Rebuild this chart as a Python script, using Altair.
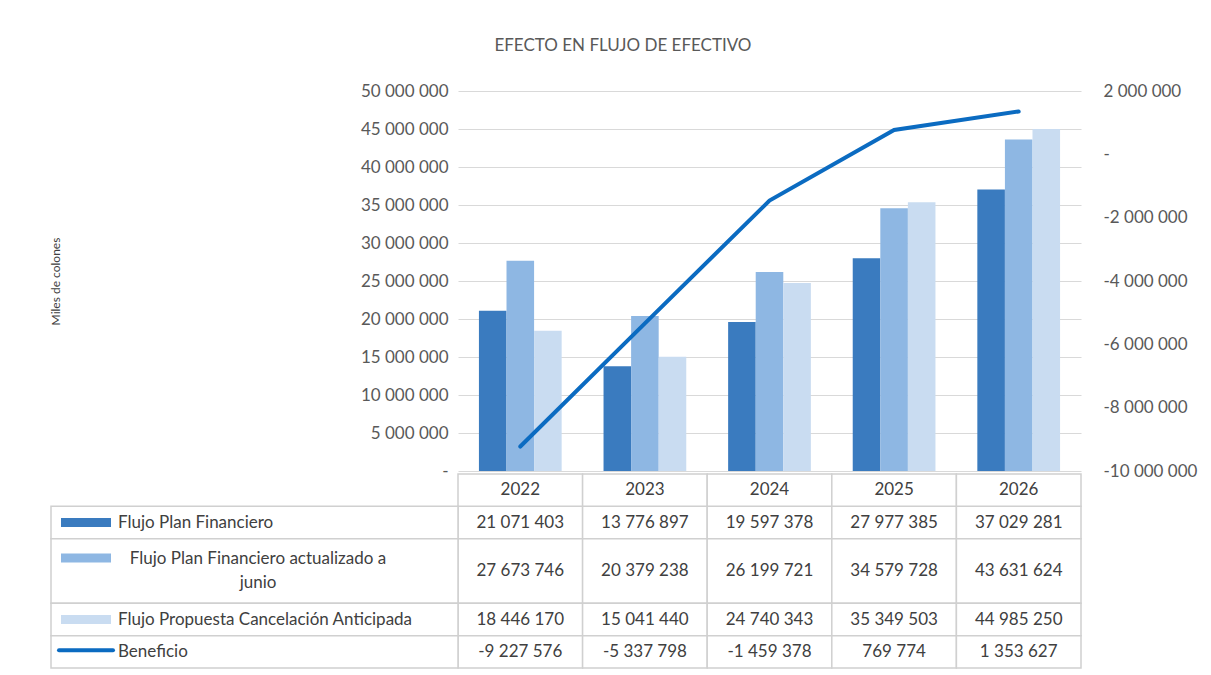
import altair as alt
import pandas as pd

years = ["2022", "2023", "2024", "2025", "2026"]
series = ["Flujo Plan Financiero",
          "Flujo Plan Financiero actualizado a junio",
          "Flujo Propuesta Cancelación Anticipada"]
flujo_plan = [21071403, 13776897, 19597378, 27977385, 37029281]
flujo_actualizado = [27673746, 20379238, 26199721, 34579728, 43631624]
flujo_propuesta = [18446170, 15041440, 24740343, 35349503, 44985250]
beneficio = [-9227576, -5337798, -1459378, 769774, 1353627]
left_ticks = [0, 5000000, 10000000, 15000000, 20000000, 25000000,
              30000000, 35000000, 40000000, 45000000, 50000000]
right_ticks = [-10000000, -8000000, -6000000, -4000000, -2000000, 0, 2000000]
colors = ["#3A7BBF", "#8EB7E3", "#C9DCF1"]
line_color = "#0B6BC1"

FONT = "Lato"
TXT = "#595959"
GRID = "#D9D9D9"

W, H = 623, 380

bars_df = pd.DataFrame(
    [{"year": y, "serie": s, "value": v}
     for s, vals in zip(series, [flujo_plan, flujo_actualizado, flujo_propuesta])
     for y, v in zip(years, vals)]
)
line_df = pd.DataFrame({"year": years, "beneficio": beneficio})

xband = alt.Scale(domain=years, paddingInner=0.336, paddingOuter=0.168)

bars = alt.Chart(bars_df).mark_bar().encode(
    x=alt.X("year:N", scale=xband, axis=None),
    xOffset=alt.XOffset("serie:N", sort=series, scale=alt.Scale(domain=series)),
    y=alt.Y("value:Q",
            scale=alt.Scale(domain=[0, 50000000], nice=False),
            axis=alt.Axis(values=left_ticks, format=",d",
                          labelExpr="datum.value == 0 ? '-' : datum.label",
                          grid=True, gridColor=GRID, domain=False, ticks=False,
                          labelPadding=10, labelFontSize=17, labelColor=TXT,
                          labelFont=FONT,
                          title="Miles de colones", titleFont=FONT,
                          titleFontSize=12, titleFontWeight="normal",
                          titleColor="#404040", titleX=-396, titleY=H / 2)),
    color=alt.Color("serie:N", scale=alt.Scale(domain=series, range=colors),
                    legend=None),
)

line = alt.Chart(line_df).mark_line(color=line_color, strokeWidth=4,
                                    strokeCap="round").encode(
    x=alt.X("year:N", scale=xband, axis=None),
    y=alt.Y("beneficio:Q",
            scale=alt.Scale(domain=[-10000000, 2000000], nice=False, zero=False),
            axis=alt.Axis(orient="right", values=right_ticks, format=",d",
                          labelExpr="datum.value == 0 ? '-' : datum.label",
                          grid=False, domain=False, ticks=False,
                          labelPadding=22, labelFontSize=17, labelColor=TXT,
                          labelFont=FONT, title=None)),
)

main = alt.layer(bars, line).resolve_scale(y="independent").properties(
    width=W, height=H)

# ---------------- data table ----------------
row_keys = ["r1", "r2", "r3", "r4"]
row_y0 = [1, 2, 4, 5]
row_y1 = [2, 4, 5, 6]
row_vals = [flujo_plan, flujo_actualizado, flujo_propuesta, beneficio]

cells = []
for k, y0, y1, vals in zip(row_keys, row_y0, row_y1, row_vals):
    for yr, v in zip(years, vals):
        cells.append({"row": k, "year": yr, "y0": y0, "y1": y1,
                      "ym": (y0 + y1) / 2, "value": v})
cells_df = pd.DataFrame(cells)
header_df = pd.DataFrame({"year": years, "y0": [0] * 5, "y1": [1] * 5,
                          "ym": [0.5] * 5})
labels_df = pd.DataFrame({
    "row": row_keys, "y0": row_y0, "y1": row_y1,
    "ym": [(a + b) / 2 for a, b in zip(row_y0, row_y1)],
    "sy": [1.5, 2.6, 4.5, 5.45],
    "label": ["Flujo Plan Financiero",
              "Flujo Plan Financiero actualizado a\njunio",
              "Flujo Propuesta Cancelación Anticipada",
              "Beneficio"],
    "kind": ["bar", "bar", "bar", "line"],
    "color": colors + [line_color],
})

tx = alt.Scale(domain=years, paddingInner=0, paddingOuter=0)
ty = alt.Scale(domain=[0, 6], reverse=True, nice=False, zero=False)
BORDER = "#D0D0D0"

cell_rect = alt.Chart(cells_df).mark_rect(fill="white", stroke=BORDER,
                                          strokeWidth=1.5).encode(
    x=alt.X("year:N", scale=tx, axis=None),
    y=alt.Y("y0:Q", scale=ty, axis=None),
    y2="y1:Q",
)
head_rect = alt.Chart(header_df).mark_rect(fill="white", stroke=BORDER,
                                           strokeWidth=1.5).encode(
    x=alt.X("year:N", scale=tx, axis=None),
    y=alt.Y("y0:Q", scale=ty, axis=None),
    y2="y1:Q",
)
label_rect = alt.Chart(labels_df).mark_rect(fill="white", stroke=BORDER,
                                            strokeWidth=1.5).encode(
    x=alt.value(-407), x2=alt.value(0),
    y=alt.Y("y0:Q", scale=ty, axis=None),
    y2="y1:Q",
)
num_text = alt.Chart(cells_df).mark_text(font=FONT, fontSize=17,
                                         color="#404040").encode(
    x=alt.X("year:N", scale=tx, axis=None),
    y=alt.Y("ym:Q", scale=ty, axis=None),
    text=alt.Text("value:Q", format=",d"),
)
head_text = alt.Chart(header_df).mark_text(font=FONT, fontSize=17,
                                           color="#404040").encode(
    x=alt.X("year:N", scale=tx, axis=None),
    y=alt.Y("ym:Q", scale=ty, axis=None),
    text="year:N",
)
lab_text_left = alt.Chart(labels_df).transform_filter(
    "datum.row != 'r2'").mark_text(font=FONT, fontSize=17, color="#404040",
                                  align="left").encode(
    x=alt.value(-340),
    y=alt.Y("ym:Q", scale=ty, axis=None),
    text="label:N",
)
lab_text_center = alt.Chart(labels_df).transform_filter(
    "datum.row == 'r2'").mark_text(font=FONT, fontSize=17, color="#404040",
                                  align="center", lineBreak="\n",
                                  lineHeight=24, dy=-12).encode(
    x=alt.value(-200),
    y=alt.Y("ym:Q", scale=ty, axis=None),
    text="label:N",
)
swatch_bar = alt.Chart(labels_df).transform_filter(
    "datum.kind == 'bar'").mark_rule(strokeWidth=9).encode(
    x=alt.value(-397), x2=alt.value(-347),
    y=alt.Y("sy:Q", scale=ty, axis=None),
    color=alt.Color("color:N", scale=None),
)
swatch_line = alt.Chart(labels_df).transform_filter(
    "datum.kind == 'line'").mark_rule(strokeWidth=4, strokeCap="round").encode(
    x=alt.value(-399), x2=alt.value(-345),
    y=alt.Y("sy:Q", scale=ty, axis=None),
    color=alt.Color("color:N", scale=None),
)

table = alt.layer(cell_rect, head_rect, label_rect, num_text, head_text,
                  lab_text_left, lab_text_center, swatch_bar,
                  swatch_line).properties(width=W, height=194)

chart = alt.vconcat(main, table, spacing=3, bounds="flush").properties(
    title=alt.Title("EFECTO EN FLUJO DE EFECTIVO", anchor="middle",
                    font=FONT, fontSize=17, fontWeight="normal",
                    color=TXT, offset=27),
    padding={"left": 41, "top": 29, "right": 5, "bottom": 5},
).configure_view(stroke=None)

chart.save("out.html", embed_options={
    "renderer": "svg", "actions": False,
    "formatLocale": {"decimal": ",", "thousands": " ", "grouping": [3],
                     "currency": ["", ""], "minus": "-"},
})
